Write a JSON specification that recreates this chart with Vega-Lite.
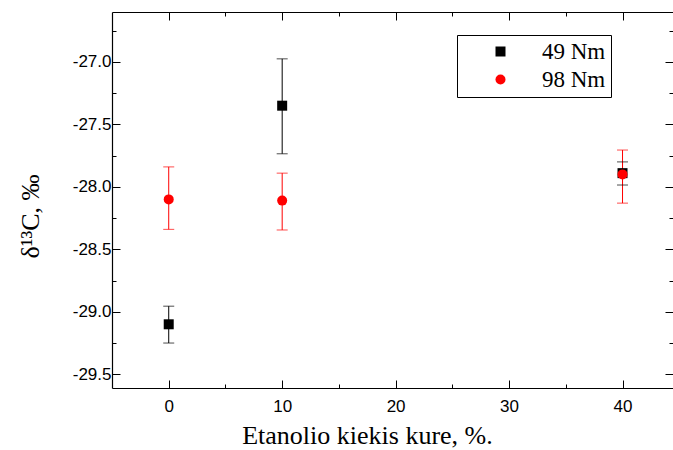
{
  "$schema": "https://vega.github.io/schema/vega-lite/v6.json",
  "width": 561,
  "height": 376,
  "autosize": {"type": "none"},
  "padding": {"left": 112, "top": 12, "right": 0, "bottom": 62},
  "background": "white",
  "config": {
    "view": {"stroke": null},
    "axis": {
      "grid": false,
      "domainColor": "black",
      "domainWidth": 1.2,
      "tickColor": "black",
      "tickWidth": 1,
      "labelColor": "black",
      "titleColor": "black",
      "labelFont": "Liberation Sans",
      "labelFontSize": 17,
      "titleFont": "Liberation Serif",
      "titleFontWeight": "normal"
    }
  },
  "data": {
    "values": [
      {"x": 0, "series": "49 Nm", "y": -29.10, "lo": -29.25, "hi": -28.955},
      {"x": 10, "series": "49 Nm", "y": -27.35, "lo": -27.735, "hi": -26.975},
      {"x": 40, "series": "49 Nm", "y": -27.89, "lo": -27.985, "hi": -27.80},
      {"x": 0, "series": "98 Nm", "y": -28.10, "lo": -28.34, "hi": -27.84},
      {"x": 10, "series": "98 Nm", "y": -28.11, "lo": -28.345, "hi": -27.89},
      {"x": 40, "series": "98 Nm", "y": -27.90, "lo": -28.13, "hi": -27.705}
    ]
  },
  "layer": [
    {
      "mark": {"type": "rule", "strokeWidth": 1},
      "encoding": {
        "x": {"field": "x", "type": "quantitative", "scale": {"domain": [-5, 44.45], "nice": false, "zero": false},
          "axis": {"orient": "bottom", "values": [0, 10, 20, 30, 40], "tickSize": -8, "labelPadding": 18,
            "title": "Etanolio kiekis kure, %.", "titleFontSize": 26, "titleX": 255, "titleY": 55, "titleBaseline": "alphabetic", "titleAnchor": null}},
        "y": {"field": "lo", "type": "quantitative", "scale": {"domain": [-29.61, -26.6], "nice": false, "zero": false},
          "axis": {"orient": "left", "values": [-29.5, -29, -28.5, -28, -27.5, -27], "labelExpr": "datum.value < 0 ? '-' + format(-datum.value, '.1f') : format(datum.value, '.1f')", "tickSize": -8, "labelPadding": 9,
            "title": "δ¹³C, ‰", "titleFontSize": 26, "titleAngle": -90, "titleX": -82, "titleY": 204, "titleAlign": "center", "titleBaseline": "middle"}},
        "y2": {"field": "hi"},
        "color": {"field": "series", "type": "nominal", "scale": {"domain": ["49 Nm", "98 Nm"], "range": ["black", "red"]}, "legend": null}
      }
    },
    {
      "mark": {"type": "tick", "orient": "horizontal", "size": 11, "thickness": 1},
      "encoding": {
        "x": {"field": "x", "type": "quantitative", "scale": {"domain": [-5, 44.45], "nice": false, "zero": false},
          "axis": {"orient": "bottom", "values": [5, 15, 25, 35], "tickSize": -4, "labels": false, "domain": false, "title": null}},
        "y": {"field": "lo", "type": "quantitative", "scale": {"domain": [-29.61, -26.6], "nice": false, "zero": false},
          "axis": {"orient": "left", "values": [-29.25, -28.75, -28.25, -27.75, -27.25, -26.75], "tickSize": -4, "labels": false, "domain": false, "title": null}},
        "color": {"field": "series", "type": "nominal", "scale": {"domain": ["49 Nm", "98 Nm"], "range": ["black", "red"]}, "legend": null}
      }
    },
    {
      "mark": {"type": "tick", "orient": "horizontal", "size": 11, "thickness": 1},
      "encoding": {
        "x": {"field": "x", "type": "quantitative", "scale": {"domain": [-5, 44.45], "nice": false, "zero": false},
          "axis": {"orient": "top", "values": [0, 10, 20, 30, 40], "tickSize": -8, "labels": false, "domain": true, "title": null}},
        "y": {"field": "hi", "type": "quantitative", "scale": {"domain": [-29.61, -26.6], "nice": false, "zero": false},
          "axis": {"orient": "right", "values": [-29.5, -29, -28.5, -28, -27.5, -27], "tickSize": -8, "labels": false, "domain": false, "title": null}},
        "color": {"field": "series", "type": "nominal", "scale": {"domain": ["49 Nm", "98 Nm"], "range": ["black", "red"]}, "legend": null}
      }
    },
    {
      "mark": {"type": "point", "filled": true, "opacity": 1, "size": 100},
      "encoding": {
        "x": {"field": "x", "type": "quantitative", "scale": {"domain": [-5, 44.45], "nice": false, "zero": false},
          "axis": {"orient": "top", "values": [5, 15, 25, 35], "tickSize": -4, "labels": false, "domain": false, "title": null}},
        "y": {"field": "y", "type": "quantitative", "scale": {"domain": [-29.61, -26.6], "nice": false, "zero": false},
          "axis": {"orient": "right", "values": [-29.25, -28.75, -28.25, -27.75, -27.25, -26.75], "tickSize": -4, "labels": false, "domain": false, "title": null}},
        "color": {"field": "series", "type": "nominal", "scale": {"domain": ["49 Nm", "98 Nm"], "range": ["black", "red"]},
          "legend": {"title": null, "orient": "none", "legendX": 345, "legendY": 23, "strokeColor": "black", "fillColor": "white", "padding": 5,
            "labelFont": "Liberation Serif", "labelFontSize": 23, "labelColor": "black", "symbolSize": 100, "symbolOffset": 27, "labelOffset": 30, "rowPadding": 4, "symbolStrokeWidth": 0}},
        "shape": {"field": "series", "type": "nominal", "scale": {"domain": ["49 Nm", "98 Nm"], "range": ["square", "circle"]},
          "legend": {"title": null, "orient": "none", "legendX": 345, "legendY": 23, "strokeColor": "black", "fillColor": "white", "padding": 5,
            "labelFont": "Liberation Serif", "labelFontSize": 23, "labelColor": "black", "symbolSize": 100, "symbolOffset": 27, "labelOffset": 30, "rowPadding": 4, "symbolStrokeWidth": 0}}
      }
    }
  ],
  "resolve": {"axis": {"x": "independent", "y": "independent"}, "scale": {"color": "independent", "shape": "independent"}}
}
